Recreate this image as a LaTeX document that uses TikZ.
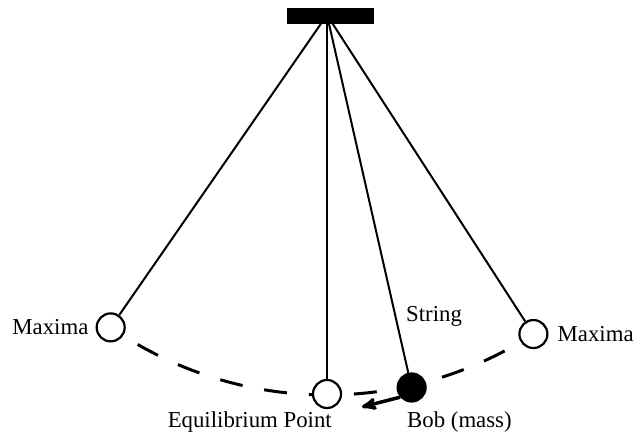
\documentclass[tikz,border=0pt]{standalone}
\usepackage{fontspec}
\setmainfont{Liberation Serif}
\usetikzlibrary{arrows}

\begin{document}
\begin{tikzpicture}[
    x=1pt, y=1pt,
    string line/.style={line width=2pt},
    swing line/.style={line width=3pt, dash pattern=on 23pt off 22pt,
    dash phase=13pt},
    mass/.style={circle, draw, line width=2.2pt, fill=white,
    minimum size=28pt, inner sep=0pt},
    pile/.style={line width=3.5pt, ->, >=stealth'},
    every node/.style={color=black, font=\fontsize{22.8}{27}\selectfont}
    ]
    \useasboundingbox (-327,-420) rectangle (310,15);
    % pivot
    \coordinate (pivot) at (0,0);
    % path of the swing
    \draw[swing line] (235.3:380) arc[start angle=235.3, end angle=302.9,
        radius=380];
    % positions of the mass
    \node[mass] (maxl) at (235.3:380) {};
    \node[mass] (equi) at (270:379) {};
    \node[mass, fill=black] (bob) at (282.8:382) {};
    \node[mass] (maxr) at (302.9:380) {};
    % Strings
    \draw[string line] (pivot) -- (maxl);
    \draw[string line] (pivot) -- (equi);
    \draw[string line] (pivot) -- (bob);
    \draw[string line] (pivot) -- (maxr);
    % support
    \fill (-40,7) rectangle (47,-9);
    % motion of the bob
    \coordinate (push) at (35,-392);
    \draw[pile] (bob.220) -- (push);
    % Labels
    \node[left=7pt, inner sep=0pt] at (maxl.west) {Maxima};
    \node[right=9pt, inner sep=0pt] at (maxr.east) {Maxima};
    \node[anchor=base west, inner sep=0pt] at (79,-307) {String};
    \node[anchor=base west, inner sep=0pt] at (80,-412) {Bob (mass)};
    \node[anchor=base east, inner sep=0pt] at (5,-412) {Equilibrium Point};
\end{tikzpicture}
\end{document}
